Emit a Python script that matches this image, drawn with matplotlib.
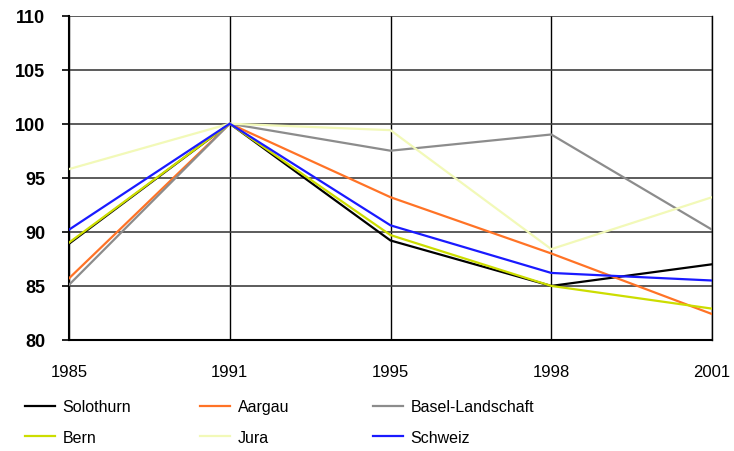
import matplotlib.pyplot as plt
from matplotlib import font_manager

years = ["1985", "1991", "1995", "1998", "2001"]

solothurn = [88.9, 100, 89.2, 85.0, 87.0]
aargau = [85.7, 100, 93.2, 88.0, 82.4]
basel = [85.1, 100, 97.5, 99.0, 90.2]
bern = [89.0, 100, 89.7, 85.0, 82.9]
jura = [95.8, 100, 99.4, 88.4, 93.2]
schweiz = [90.2, 100, 90.6, 86.2, 85.5]

series = [
    ("Solothurn", solothurn, "#000000"),
    ("Aargau", aargau, "#ff7326"),
    ("Basel-Landschaft", basel, "#8c8c8c"),
    ("Bern", bern, "#ccdd00"),
    ("Jura", jura, "#f2f9b8"),
    ("Schweiz", schweiz, "#1a1aff"),
]

plt.rcParams['font.family'] = ['Liberation Sans', 'DejaVu Sans']

# narrow face for the legend if it is there
names = {f.name for f in font_manager.fontManager.ttflist}
leg_family = ['Liberation Sans Narrow', 'Liberation Sans'] if 'Liberation Sans Narrow' in names else ['Liberation Sans']

fig = plt.figure(figsize=(7.34, 4.52), dpi=100)
ax = fig.add_axes([69 / 734, 1 - 341 / 452, (712 - 69) / 734, (341 - 16.5) / 452])

x = range(len(years))
lines = {}
for name, vals, col in series:
    lines[name], = ax.plot(x, vals, color=col, lw=1.6, label=name, zorder=3)

ax.set_xlim(0, len(years) - 1)
ax.set_ylim(80, 110)
ax.set_yticks(range(80, 111, 5))
ax.set_xticks(list(x))
ax.set_xticklabels(years, fontsize=12)
for lab in ax.get_yticklabels():
    lab.set_fontweight('bold')
    lab.set_fontsize(13)

ax.grid(axis='y', color='#404040', lw=1.2)
ax.grid(axis='x', color='#000000', lw=1.0)
ax.set_axisbelow(True)
for s in ax.spines.values():
    s.set_color('#000000')
    s.set_linewidth(1.0)
ax.spines['left'].set_linewidth(1.5)
ax.spines['bottom'].set_linewidth(1.5)
ax.spines['top'].set_visible(False)
ax.tick_params(axis='y', length=5, width=1.2, pad=12)
ax.tick_params(axis='x', length=0, pad=17)

# three legend columns, two rows each
cols = [["Solothurn", "Bern"], ["Aargau", "Jura"], ["Basel-Landschaft", "Schweiz"]]
col_x = [25, 200, 373]
for names_c, cx in zip(cols, col_x):
    leg = fig.legend([lines[n] for n in names_c], names_c, frameon=False,
                     loc='center left', bbox_to_anchor=(cx / 734, 1 - 423 / 452),
                     prop={'family': leg_family, 'size': 11.5},
                     handlelength=1.9, handletextpad=0.45,
                     labelspacing=0.95, borderpad=0, borderaxespad=0)

fig.savefig("out.png", dpi=100)
